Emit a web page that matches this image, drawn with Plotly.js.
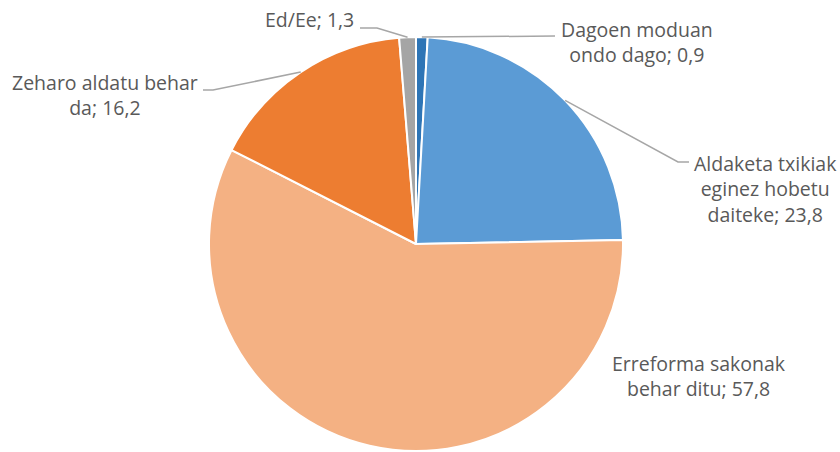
<!DOCTYPE html>
<html>
<head>
<meta charset="utf-8">
<script src="https://cdn.plot.ly/plotly-3.0.1.min.js"></script>
<style>html,body{margin:0;padding:0;background:#fff;}#chart{width:840px;height:452px;}</style>
</head>
<body>
<div id="chart"></div>
<script>
const labels = ["Dagoen moduan ondo dago", "Aldaketa txikiak eginez hobetu daiteke", "Erreforma sakonak behar ditu", "Zeharo aldatu behar da", "Ed/Ee"];
const labelTexts = ["Dagoen moduan<br>ondo dago; 0,9", "Aldaketa txikiak<br>eginez hobetu<br>daiteke; 23,8", "Erreforma sakonak<br>behar ditu; 57,8", "Zeharo aldatu behar<br>da; 16,2", "Ed/Ee; 1,3"];
const values = [0.9, 23.8, 57.8, 16.2, 1.3];
const colors = ["#2E75B6", "#5B9BD5", "#F4B183", "#ED7D31", "#A5A5A5"];

const W = 840, H = 452;
const cx = 416, cy = 244, R = 207;
const px = x => x / W, py = y => 1 - y / H;

// label positions (pixel centres) and leader-line elbow/ends
const labelPos = [[637, 42], [765, 189], [699, 376], [105, 95], [309, 20]];
const leader = [
  [[555, 36]],
  [[678, 162], [689, 162]],
  null,
  [[213, 90], [203, 90]],
  [[377, 28], [360, 28]]
];

const total = values.reduce((a, b) => a + b, 0);
let cum = 0;
const shapes = [];
values.forEach((v, i) => {
  const mid = (cum + v / 2) / total * 2 * Math.PI;
  cum += v;
  if (!leader[i]) return;
  const sx = cx + R * Math.sin(mid), sy = cy - R * Math.cos(mid);
  let d = `M ${px(sx)} ${py(sy)}`;
  leader[i].forEach(p => { d += ` L ${px(p[0])} ${py(p[1])}`; });
  shapes.push({type: "path", xref: "paper", yref: "paper", path: d, line: {color: "#A6A6A6", width: 1.5}});
});

const annotations = labelTexts.map((t, i) => ({
  text: t, xref: "paper", yref: "paper", x: px(labelPos[i][0]), y: py(labelPos[i][1]),
  xanchor: "center", yanchor: "middle", showarrow: false, align: "center",
  font: {family: "'Open Sans', sans-serif", size: 19.5, color: "#595959"}
}));

const data = [{
  type: "pie", labels: labels, values: values, sort: false, direction: "clockwise", rotation: 0,
  marker: {colors: colors, line: {color: "#ffffff", width: 2}},
  textinfo: "none", hoverinfo: "label+value",
  domain: {x: [px(cx - R), px(cx + R)], y: [py(cy + R), py(cy - R)]}
}];

const layout = {
  width: W, height: H, margin: {l: 0, r: 0, t: 0, b: 0},
  paper_bgcolor: "#ffffff", showlegend: false,
  shapes: shapes, annotations: annotations
};
Plotly.newPlot("chart", data, layout, {displayModeBar: false, staticPlot: true});
</script>
</body>
</html>
